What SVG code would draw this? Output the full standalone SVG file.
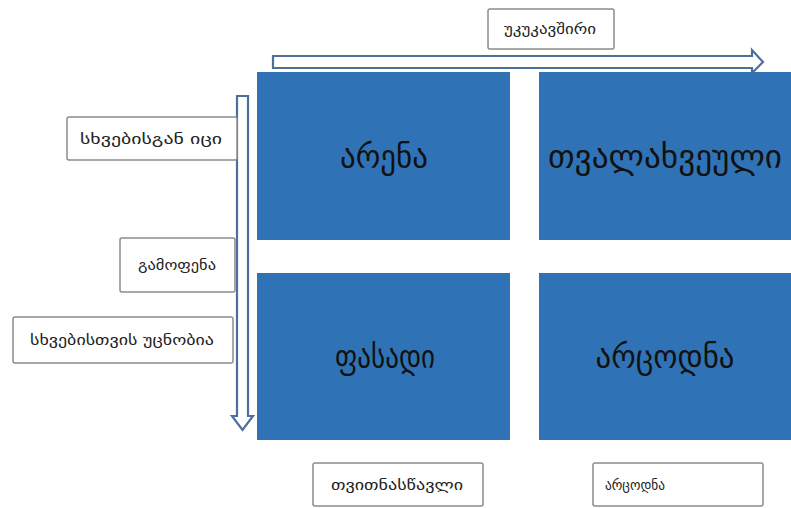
<svg xmlns="http://www.w3.org/2000/svg" width="791" height="508" viewBox="0 0 791 508">
  <style>
    .quad { fill: #2f73b6; }
    .quad-text { font-family: "DejaVu Sans", sans-serif; font-size: 32px; fill: #111; text-anchor: middle; dominant-baseline: central; }
    .label { fill: #ffffff; stroke: #8c8c8c; stroke-width: 1.5; }
    .label-text { font-family: "DejaVu Sans", sans-serif; font-size: 13.5px; fill: #222; text-anchor: middle; dominant-baseline: central; }
    .arrow { fill: #ffffff; stroke: #4d6f9c; stroke-width: 2.2; stroke-linejoin: miter; }
  </style>

  <rect width="791" height="508" fill="#ffffff"/>

  <!-- quadrants -->
  <g id="arena">
    <rect class="quad" x="257" y="72" width="253" height="168"/>
    <text class="quad-text" x="384" y="157" textLength="88" lengthAdjust="spacingAndGlyphs">არენა</text>
  </g>
  <g id="blind">
    <rect class="quad" x="539" y="72" width="252" height="168"/>
    <text class="quad-text" x="665" y="157" textLength="234" lengthAdjust="spacingAndGlyphs">თვალახვეული</text>
  </g>
  <g id="facade">
    <rect class="quad" x="257" y="273" width="253" height="167"/>
    <text class="quad-text" x="385" y="357" textLength="100" lengthAdjust="spacingAndGlyphs">ფასადი</text>
  </g>
  <g id="unknown">
    <rect class="quad" x="539" y="273" width="252" height="167"/>
    <text class="quad-text" x="665" y="357" textLength="139" lengthAdjust="spacingAndGlyphs">არცოდნა</text>
  </g>

  <!-- axis arrows -->
  <g id="connectors">
    <path class="arrow" d="M273 56 H752 V50 L763 62 L752 73 V68 H273 Z"/>
    <path class="arrow" d="M237 96 H248 V416 H253 L242.5 430 L232 416 H237 Z"/>
  </g>

  <!-- axis labels -->
  <g id="feedback">
    <rect class="label" x="488" y="9" width="126" height="40" rx="2"/>
    <text class="label-text" x="550" y="29" textLength="92" lengthAdjust="spacingAndGlyphs">უკუკავშირი</text>
  </g>
  <g id="known-from-others">
    <rect class="label" x="67" y="117" width="170" height="43" rx="2"/>
    <text class="label-text" x="151" y="138.5" textLength="142" lengthAdjust="spacingAndGlyphs">სხვებისგან იცი</text>
  </g>
  <g id="exposure">
    <rect class="label" x="120" y="238" width="115" height="54" rx="2"/>
    <text class="label-text" x="177" y="265" textLength="78" lengthAdjust="spacingAndGlyphs">გამოფენა</text>
  </g>
  <g id="unknown-to-others">
    <rect class="label" x="13" y="317" width="220" height="46" rx="2"/>
    <text class="label-text" x="122" y="340" textLength="184" lengthAdjust="spacingAndGlyphs">სხვებისთვის უცნობია</text>
  </g>
  <g id="self-taught">
    <rect class="label" x="313" y="463" width="170" height="43" rx="2"/>
    <text class="label-text" x="397" y="484.5" textLength="132" lengthAdjust="spacingAndGlyphs">თვითნასწავლი</text>
  </g>
  <g id="not-knowing">
    <rect class="label" x="593" y="463" width="170" height="43" rx="2"/>
    <text class="label-text" x="635" y="484.5" textLength="60" lengthAdjust="spacingAndGlyphs">არცოდნა</text>
  </g>
</svg>
